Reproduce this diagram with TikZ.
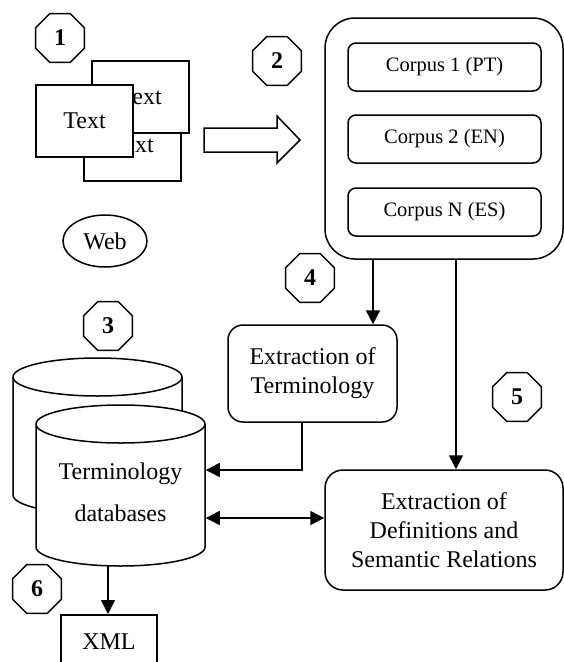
\documentclass[tikz,border=0pt]{standalone}
\usepackage{fontspec}
\setmainfont{Liberation Serif}
\usetikzlibrary{shapes.geometric,arrows.meta,calc}
\begin{document}
\begin{tikzpicture}[x=1pt,y=-1pt,
  line width=1.5pt,
  every node/.style={font=\fontsize{24}{29}\selectfont},
  octa/.style={regular polygon,regular polygon sides=8,draw,fill=white,inner sep=0pt,minimum size=53pt,font=\fontsize{24}{29}\selectfont\bfseries},
  plainbox/.style={draw,fill=white,minimum width=97pt,minimum height=72pt,inner sep=0pt},
  corpus/.style={draw,rounded corners=8pt,minimum width=193pt,minimum height=48pt,inner sep=0pt,font=\fontsize{20.5}{24}\selectfont},
  procbox/.style={draw,fill=white,align=center,inner sep=0pt},
  arr/.style={-{Triangle[length=14pt,width=14pt]}},
  darr/.style={{Triangle[length=14pt,width=14pt]}-{Triangle[length=14pt,width=14pt]}}
]
\useasboundingbox (0,0) rectangle (564,662);
\clip (0,0) rectangle (564,662);

% step labels
\node[octa] (o1) at (60,38) {1};
\node[octa] (o2) at (277,61) {2};
\node[octa] (o3) at (108,326) {3};
\node[octa] (o4) at (310,278) {4};
\node[octa] (o5) at (517,397) {5};
\node[octa] (o6) at (37,589) {6};

% stacked text documents
\node[plainbox] (tb) at (132.5,145) {Text};
\node[plainbox] (ta) at (140.5,97) {Text};
\node[plainbox] (tf) at (84.5,121) {Text};

% web
\node[ellipse,draw,minimum width=84pt,minimum height=52pt,inner sep=0pt] (web) at (105,241) {Web};

% block arrow
\draw (204,128) -- (277,128) -- (277,116) -- (300,140) -- (277,163) -- (277,152) -- (204,152) -- cycle;

% corpora container
\node[draw,rounded corners=30pt,minimum width=238pt,minimum height=241pt,inner sep=0pt] (corp) at (444,138.5) {};
\node[corpus] (c1) at (444.5,67) {Corpus 1 (PT)};
\node[corpus] (c2) at (444.5,139) {Corpus 2 (EN)};
\node[corpus] (cn) at (444.5,212) {Corpus N (ES)};

% databases (cylinders)
\draw[fill=white] (13,377) -- (13,495) arc[start angle=180,end angle=360,x radius=84.5pt,y radius=19pt]
  -- (182,377) arc[start angle=0,end angle=180,x radius=84.5pt,y radius=19pt] -- cycle;
\draw (13,377) arc[start angle=180,end angle=360,x radius=84.5pt,y radius=19pt];
\draw[fill=white] (36,424) -- (36,547) arc[start angle=180,end angle=360,x radius=84.5pt,y radius=19pt]
  -- (205,424) arc[start angle=0,end angle=180,x radius=84.5pt,y radius=19pt] -- cycle;
\draw (36,424) arc[start angle=180,end angle=360,x radius=84.5pt,y radius=19pt];
\node[minimum width=169pt,minimum height=123pt,inner sep=0pt,align=center,font=\fontsize{24}{42}\selectfont] (db) at (120.5,492) {Terminology\\databases};

% processes
\node[procbox,rounded corners=15pt,minimum width=169pt,minimum height=97pt] (et) at (312.5,373.5) {Extraction of\\Terminology};
\node[procbox,rounded corners=18pt,minimum width=238pt,minimum height=120pt] (ed) at (444,530) {Extraction of\\Definitions and\\Semantic Relations};

% XML
\node[draw,minimum width=96pt,minimum height=60pt,inner sep=0pt,anchor=north] (xml) at (109,614) {};
\node at (109,642) (xmlt) {XML};

% connectors
\draw[arr] (corp.south -| 373,0) -- (et.north -| 373,0);
\draw[arr] (corp.south -| 456,0) -- (ed.north -| 456,0);
\draw[arr] (et.south -| 302,0) -- (302,470) -- (db.east |- 0,470);
\draw[darr] (db.east |- 0,518) -- (ed.west |- 0,518);
\draw[arr] (108,566) -- (xml.north -| 108,0);
\end{tikzpicture}
\end{document}
